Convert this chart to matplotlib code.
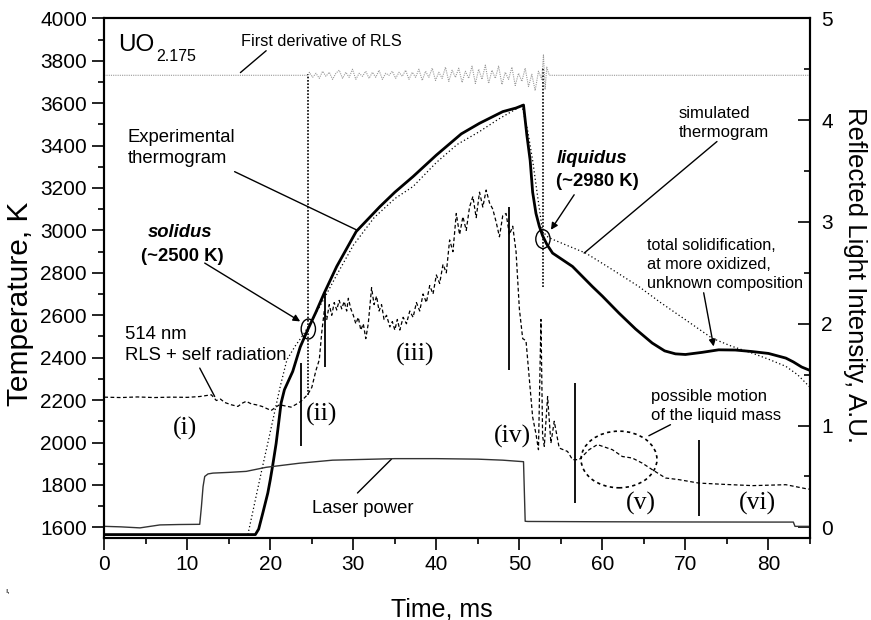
import matplotlib
matplotlib.use("Agg")
import matplotlib.pyplot as plt
from matplotlib.patches import Ellipse
from matplotlib.ticker import MultipleLocator

plt.rcParams["font.family"] = ["Liberation Sans", "DejaVu Sans"]

# experimental thermogram (K)
exp_t = [0.0, 18.2, 18.6, 19.1, 19.7, 20.0, 20.3, 20.7, 21.0, 21.3, 21.7, 22.7,
         23.6, 24.5, 25.5, 26.5, 28.0, 30.35, 33.2, 35.0, 37.2, 40.0, 41.2, 43.0,
         45.2, 48.0, 49.6, 50.5, 50.9, 51.3, 51.6, 52.0, 52.4, 52.8, 53.3, 54.0,
         56.4, 58.8, 60.0, 62.0, 64.0, 66.0, 67.5, 68.8, 70.0, 72.0, 74.0, 76.0,
         78.0, 80.0, 82.1, 83.0, 84.0, 85.0]
exp_T = [1566, 1566, 1592, 1668, 1762, 1825, 1895, 1995, 2090, 2186, 2249, 2335,
         2450, 2531, 2615, 2705, 2830, 2995, 3112, 3180, 3254, 3355, 3395, 3455,
         3505, 3560, 3577, 3591, 3450, 3330, 3180, 3080, 3020, 2975, 2935, 2893,
         2830, 2735, 2690, 2610, 2535, 2469, 2432, 2418, 2415, 2425, 2437, 2436,
         2429, 2420, 2398, 2380, 2356, 2340]

# simulated thermogram (K)
sim_t = [17.3, 18.2, 19.0, 19.8, 20.5, 21.2, 22.0, 23.0, 24.0, 24.7, 25.5, 26.5,
         28.0, 30.0, 32.5, 35.0, 37.2, 40.0, 42.5, 45.2, 47.5, 49.5, 50.3, 51.0,
         51.6, 52.2, 52.8, 53.4, 54.0, 56.0, 58.0, 61.0, 64.4, 67.0, 70.0, 73.2,
         75.5, 78.0, 80.0, 82.1, 83.5, 85.0]
sim_T = [1566, 1730, 1875, 2015, 2140, 2265, 2390, 2455, 2510, 2555, 2610, 2680,
         2790, 2930, 3060, 3150, 3207, 3320, 3405, 3466, 3525, 3570, 3590, 3470,
         3330, 3160, 2995, 2970, 2958, 2925, 2893, 2820, 2735, 2660, 2579, 2492,
         2455, 2422, 2393, 2359, 2320, 2261]

# laser power (A.U.)
laser_t = [0.0, 2.0, 4.3, 6.7, 9.0, 11.5, 11.7, 11.9, 12.1, 12.5, 13.1, 15.0,
           17.1, 19.5, 21.5, 23.5, 25.5, 27.5, 30.0, 35.0, 40.0, 45.0, 48.0, 50.5,
           50.7, 51.0, 60.0, 70.0, 80.0, 83.0, 83.2, 85.0]
laser_v = [0.01, 0.005, -0.005, 0.024, 0.028, 0.03, 0.2, 0.4, 0.5, 0.525, 0.533, 0.54,
           0.55, 0.59, 0.61, 0.63, 0.645, 0.66, 0.665, 0.675, 0.675, 0.67, 0.66, 0.645,
           0.06, 0.058, 0.055, 0.053, 0.052, 0.052, 0.01, 0.01]

# 514 nm RLS + self radiation (A.U.)
rls_t = [0.0, 2.0, 4.0, 6.0, 8.0, 10.0, 11.5, 12.9, 13.5, 14.0,
         14.5, 15.3, 16.1, 16.6, 17.1, 17.7, 18.3, 19.0, 20.1, 20.6,
         21.1, 21.8, 22.5, 23.1, 23.7, 24.5, 25.0, 25.5, 25.9, 26.2,
         26.5, 26.8, 27.1, 27.4, 27.7, 28.0, 28.3, 28.6, 28.9, 29.2,
         29.4, 29.7, 30.0, 30.3, 30.6, 30.9, 31.2, 31.5, 31.8, 32.2,
         32.5, 32.8, 33.1, 33.4, 33.7, 34.0, 34.4, 34.7, 35.0, 35.3,
         35.6, 36.0, 36.4, 36.8, 37.2, 37.6, 38.0, 38.4, 38.8, 39.2,
         39.6, 40.0, 40.4, 40.8, 41.2, 41.6, 42.0, 42.4, 42.8, 43.2,
         43.6, 44.0, 44.4, 44.8, 45.2, 45.6, 46.0, 46.4, 46.8, 47.2,
         47.6, 48.0, 48.4, 48.8, 49.2, 49.6, 50.0, 50.4, 50.8, 51.2,
         51.6, 52.0, 52.3, 52.6, 52.8, 53.0, 53.4, 53.8, 54.2, 54.8,
         55.8, 56.4, 57.2, 58.4, 59.4, 60.0, 61.2, 62.4, 63.6, 64.8,
         66.0, 67.6, 69.2, 71.6, 75.0, 78.1, 82.1, 84.7, 85.0]
rls_v = [1.279, 1.275, 1.281, 1.275, 1.279, 1.277, 1.285, 1.302, 1.246, 1.26,
         1.227, 1.204, 1.188, 1.219, 1.238, 1.213, 1.204, 1.188, 1.148, 1.177,
         1.204, 1.192, 1.181, 1.208, 1.238, 1.304, 1.375, 1.542, 1.646, 1.917,
         2.125, 2.042, 2.188, 2.083, 2.208, 2.135, 2.229, 2.146, 2.219, 2.125,
         2.25, 2.146, 2.083, 2.0, 2.063, 1.938, 2.0, 1.854, 2.0, 2.354,
         2.188, 2.271, 2.125, 2.188, 2.042, 2.083, 1.969, 2.021, 1.938, 2.042,
         1.938, 2.063, 2.0, 2.125, 2.063, 2.208, 2.125, 2.292, 2.208, 2.375,
         2.292, 2.479, 2.396, 2.583, 2.5, 2.823, 2.708, 3.083, 2.875, 3.052,
         2.917, 3.146, 3.25, 3.042, 3.292, 3.146, 3.313, 3.188, 3.125, 3.0,
         2.854, 3.063, 3.083, 2.875, 2.958, 2.708, 2.146, 1.854, 1.833, 1.458,
         1.083, 0.917, 0.763, 2.042, 0.896, 0.796, 1.285, 0.827, 1.042, 0.779,
         0.746, 0.665, 0.665, 0.763, 0.813, 0.796, 0.763, 0.696, 0.681, 0.631,
         0.567, 0.485, 0.469, 0.435, 0.421, 0.41, 0.419, 0.377, 0.375]

# first derivative of RLS (A.U.)
deriv_t = [0.0, 24.6,
           24.7, 25.1, 25.5, 25.9, 26.3, 26.7, 27.1, 27.5, 27.9, 28.3,
           28.7, 29.1, 29.5, 29.9, 30.3, 30.7, 31.1, 31.5, 31.9, 32.3,
           32.7, 33.1, 33.5, 33.9, 34.3, 34.7, 35.1, 35.5, 35.9, 36.3,
           36.7, 37.1, 37.5, 37.9, 38.3, 38.7, 39.1, 39.5, 39.9, 40.3,
           40.7, 41.1, 41.5, 41.9, 42.3, 42.7, 43.1, 43.5, 43.9, 44.3,
           44.7, 45.1, 45.5, 45.9, 46.3, 46.7, 47.1, 47.5, 47.9, 48.3,
           48.7, 49.1, 49.5, 49.9, 50.3, 50.7, 51.1, 51.5, 51.9, 52.3,
           52.7, 52.9, 53.1, 53.3, 53.6, 85.0]
deriv_v = [4.44, 4.44,
           4.47, 4.42, 4.46, 4.41, 4.48, 4.43, 4.47, 4.40, 4.46, 4.49,
           4.41, 4.47, 4.42, 4.50, 4.40, 4.46, 4.43, 4.48, 4.41, 4.47,
           4.42, 4.49, 4.40, 4.46, 4.44, 4.48, 4.41, 4.47, 4.43, 4.49,
           4.40, 4.47, 4.42, 4.50, 4.39, 4.48, 4.42, 4.51, 4.39, 4.47,
           4.41, 4.52, 4.38, 4.49, 4.42, 4.51, 4.37, 4.48, 4.41, 4.53,
           4.36, 4.50, 4.40, 4.54, 4.36, 4.49, 4.41, 4.53, 4.35, 4.47,
           4.40, 4.52, 4.34, 4.46, 4.38, 4.51, 4.33, 4.45, 4.29, 4.48,
           4.40, 4.64, 4.30, 4.52, 4.44, 4.44]

# phase stage boundaries (solid) and derivative events (dotted)
marker_t = [23.65, 26.55, 48.8, 56.65, 71.6]
marker_lo = [1982, 2358, 2343, 1715, 1652]
marker_hi = [2375, 2705, 3112, 2280, 2013]
event_t = [24.6, 52.85]
event_lo = [2226, 2735]
event_hi = [3738, 3760]

stage_labels = ["(i)", "(ii)", "(iii)", "(iv)", "(v)", "(vi)"]
stage_t = [9.7, 26.15, 37.4, 49.2, 64.6, 78.65]
stage_T = [2068, 2131, 2414, 2029, 1712, 1712]

fig = plt.figure(figsize=(8.71, 6.2), dpi=100)
ax = fig.add_axes([0.1197, 0.1323, 0.8102, 0.8382])
ax2 = ax.twinx()

ax.plot(exp_t, exp_T, color="k", lw=2.0, zorder=4)
ax.plot(sim_t, sim_T, color="k", lw=0.9, ls=(0, (1, 2)), zorder=3)
ax2.plot(laser_t, laser_v, color="#333333", lw=1.0)
ax2.plot(rls_t, rls_v, color="k", lw=0.9, ls=(0, (3, 2)))
ax2.plot(deriv_t, deriv_v, color="#999999", lw=0.8, ls=(0, (1, 1)))

ax.vlines(marker_t, marker_lo, marker_hi, colors="k", lw=1.3)
ax.vlines(event_t, event_lo, event_hi, colors="k", lw=1.2, linestyles=(0, (1, 1)))

ax.add_patch(Ellipse((24.58, 2535), 1.72, 94, fill=False, lw=1.0, zorder=5))
ax.add_patch(Ellipse((52.84, 2959), 1.72, 88, fill=False, lw=1.0, zorder=5))
ax.add_patch(Ellipse((62.0, 1920), 9.14, 267, fill=False, lw=1.2,
                     ls=(0, (2, 2)), zorder=5))

for lab, t, T in zip(stage_labels, stage_t, stage_T):
    ax.text(t, T, lab, fontsize=18.5, family="Liberation Serif",
            ha="center", va="center")

line = dict(arrowstyle="-", lw=1.0, color="k", shrinkA=0, shrinkB=0)
arrow = dict(arrowstyle="-|>", lw=1.0, color="k", shrinkA=0, shrinkB=0,
             mutation_scale=10)

ax.text(1.68, 3847, "UO", fontsize=17.5, va="baseline", ha="left")
ax.text(6.22, 3799, "2.175", fontsize=11.5, va="baseline", ha="left")

ax.text(26.1, 3890, "First derivative of RLS", fontsize=11.7, ha="center", va="center")
ax.annotate("", xy=(16.4, 3744), xytext=(19.5, 3847), arrowprops=line)

ax.text(2.85, 3390, "Experimental\nthermogram", fontsize=13.3, ha="left",
        va="center", linespacing=1.33)
ax.annotate("", xy=(30.35, 3003), xytext=(15.7, 3277), arrowprops=line)

ax.text(9.13, 2989, "solidus", fontsize=13.3, weight="bold", style="italic",
        ha="center", va="center")
ax.text(9.43, 2877, "(~2500 K)", fontsize=13.3, weight="bold", ha="center", va="center")
ax.annotate("", xy=(23.6, 2571), xytext=(12.1, 2846), arrowprops=arrow)

ax.text(2.5, 2460, "514 nm\nRLS + self radiation", fontsize=13.3, ha="left",
        va="center", linespacing=1.33)
ax.annotate("", xy=(13.3, 2217), xytext=(11.5, 2351), arrowprops=line)

ax.text(31.15, 1691, "Laser power", fontsize=13.3, ha="center", va="center")
ax.annotate("", xy=(34.6, 1922), xytext=(30.5, 1762), arrowprops=line)

ax.text(58.8, 3340, "liquidus", fontsize=13.3, weight="bold", style="italic",
        ha="center", va="center")
ax.text(59.4, 3230, "(~2980 K)", fontsize=13.3, weight="bold", ha="center", va="center")
ax.annotate("", xy=(53.8, 3003), xytext=(56.6, 3168), arrowprops=arrow)

ax.text(69.2, 3507, "simulated\nthermogram", fontsize=12, ha="left",
        va="center", linespacing=1.33)
ax.annotate("", xy=(57.8, 2893), xytext=(73.8, 3419), arrowprops=line)

ax.text(65.4, 2838, "total solidification,\nat more oxidized,\nunknown composition",
        fontsize=11.7, ha="left", va="center", linespacing=1.33)
ax.annotate("", xy=(73.4, 2453), xytext=(72.2, 2706), arrowprops=arrow)

ax.text(65.9, 2170, "possible motion\nof the liquid mass", fontsize=12, ha="left",
        va="center", linespacing=1.33)
ax.annotate("", xy=(65.6, 2032), xytext=(68.2, 2084), arrowprops=line)

ax.set_xlim(0, 85)
ax.set_ylim(1550, 4000)
ax2.set_ylim((1550 - 1600) / 480, 5)

ax.set_xticks(range(0, 81, 10))
ax.xaxis.set_minor_locator(MultipleLocator(5))
ax.set_yticks(range(1600, 4001, 200))
ax.yaxis.set_minor_locator(MultipleLocator(100))
ax2.set_yticks(range(0, 6))
ax2.yaxis.set_minor_locator(MultipleLocator(0.5))

ax.tick_params(which="both", direction="out", width=1.2, labelsize=15, pad=4)
ax.tick_params(which="major", length=8.5)
ax.tick_params(which="minor", length=4.5)
ax2.tick_params(which="both", direction="in", width=1.2, labelsize=15, pad=8)
ax2.tick_params(which="major", length=8.5)
ax2.tick_params(which="minor", length=4.5)

for a in (ax, ax2):
    for s in a.spines.values():
        s.set_linewidth(1.5)

ax.set_xlabel("Time, ms", fontsize=18, va="center")
ax.xaxis.set_label_coords(0.478, -0.137)
ax.set_ylabel("Temperature, K", fontsize=21.5, va="center")
ax.yaxis.set_label_coords(-0.119, 0.45)
ax2.set_ylabel("Reflected Light Intensity, A.U.", fontsize=18.5, rotation=-90,
               va="center")
ax2.yaxis.set_label_coords(1.064, 0.506)

fig.text(0.006, 0.045, "ı,", fontsize=6)

fig.savefig("out.png", dpi=100)
